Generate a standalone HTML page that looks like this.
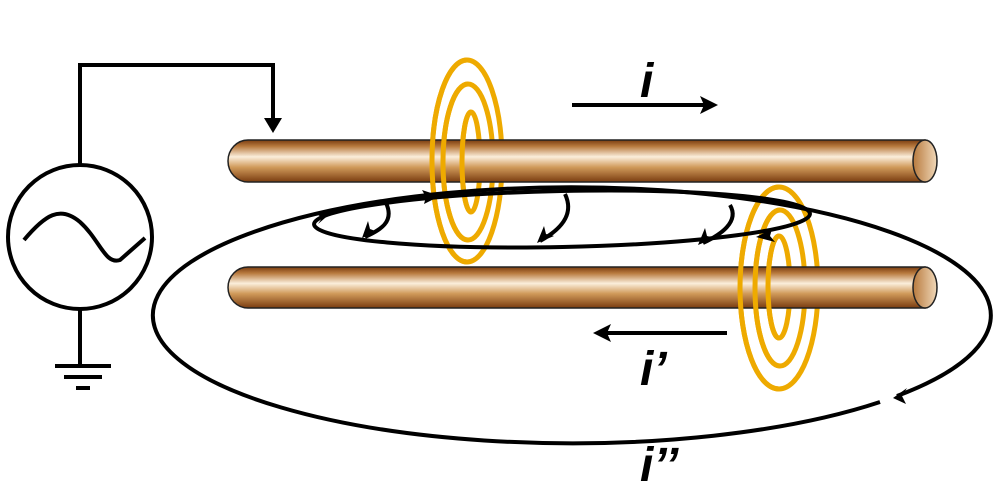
<!DOCTYPE html>
<html><head><meta charset="utf-8"><style>body{margin:0;background:#fff}svg{display:block}</style></head><body>
<svg width="1000" height="500" viewBox="0 0 1000 500" xmlns="http://www.w3.org/2000/svg">
<defs>
<linearGradient id="rod" x1="0" y1="0" x2="0" y2="1">
<stop offset="0" stop-color="#7a3c10"/>
<stop offset="0.15" stop-color="#b87a3e"/>
<stop offset="0.4" stop-color="#fbeedb"/>
<stop offset="0.65" stop-color="#d09a5a"/>
<stop offset="1" stop-color="#7a3c10"/>
</linearGradient>
<linearGradient id="cap" x1="0" y1="0" x2="1" y2="0">
<stop offset="0" stop-color="#b87a3e"/><stop offset="1" stop-color="#f0d8b8"/>
</linearGradient>
</defs>
<g fill="none" stroke="#000" stroke-width="4">
<!-- source -->
<circle cx="80" cy="237" r="72"/>
<path d="M24 240 C45 215,60 205,80 222 C100 240,105 265,120 260 L145 238"/>
<path d="M80 165 V65 H273 V122"/>
<path d="M80 309 V365"/>
<path d="M55 366 H111 M64 377 H102 M76 388 H90"/>
</g>
<polygon points="264,118 282,118 273,133" fill="#000"/>
<!-- rings full (behind rods) -->
<g fill="none" stroke="#eeaa00" stroke-width="5">
<ellipse cx="467" cy="161" rx="35" ry="101"/>
<ellipse cx="468" cy="162" rx="25" ry="78"/>
<ellipse cx="471" cy="162" rx="9" ry="50"/>
<ellipse cx="779" cy="288" rx="39" ry="101"/>
<ellipse cx="780" cy="288" rx="25" ry="78"/>
<ellipse cx="779" cy="287" rx="11" ry="51"/>
</g>
<!-- rods -->
<g stroke="#222" stroke-width="1.5">
<path d="M248 140 H925 V182 H248 A20 21 0 0 1 248 140 Z" fill="url(#rod)"/>
<ellipse cx="925" cy="161" rx="12" ry="21" fill="url(#cap)"/>
<path d="M248 267 H925 V308 H248 A20 20.5 0 0 1 248 267 Z" fill="url(#rod)"/>
<ellipse cx="925" cy="287.5" rx="12" ry="20.5" fill="url(#cap)"/>
</g>
<!-- ring left halves over rods -->
<g fill="none" stroke="#eeaa00" stroke-width="5">
<path d="M467 60 A35 101 0 0 0 467 262"/>
<path d="M468 84 A25 78 0 0 0 468 240"/>
<path d="M471 112 A9 50 0 0 0 471 212"/>
<path d="M779 187 A39 101 0 0 0 779 389"/>
<path d="M780 210 A25 78 0 0 0 780 366"/>
<path d="M779 236 A11 51 0 0 0 779 338"/>
</g>
<!-- field loops -->
<g fill="none" stroke="#000" stroke-width="4">
<ellipse cx="562" cy="219" rx="248" ry="28" transform="rotate(-1.2 562 219)"/>
<path d="M880 402 A419 128 0 1 1 897 396"/>
<path d="M386 203 C395 222,380 230,365 237"/>
<path d="M565 194 C575 215,560 230,540 241"/>
<path d="M730 205 C740 222,720 235,703 243"/>
<path d="M572 105 H705"/>
<path d="M727 333 H605"/>
</g>
<g fill="#000">
<polygon points="718,105 700,96 704,105 700,114"/>
<polygon points="593,333 611,324 607,333 611,342"/>
<polygon points="893,398 907,388 902,396 906,404"/>
<polygon points="440,196 422,190 426,197 424,204"/>
<polygon points="332,212 316,213 322,218 318,224"/>
<polygon points="362,238 368,221 370,229 378,232"/>
<polygon points="537,243 544,226 546,234 554,236"/>
<polygon points="698,245 705,228 707,236 715,238"/>
<polygon points="756,237 772,229 770,236 775,242"/>
</g>
<g font-family="Liberation Sans, sans-serif" font-weight="bold" font-style="italic" font-size="48" fill="#000">
<text x="640" y="97">i</text>
<text x="640" y="385">i’</text>
<text x="640" y="481">i’’</text>
</g>
</svg>
</body></html>
